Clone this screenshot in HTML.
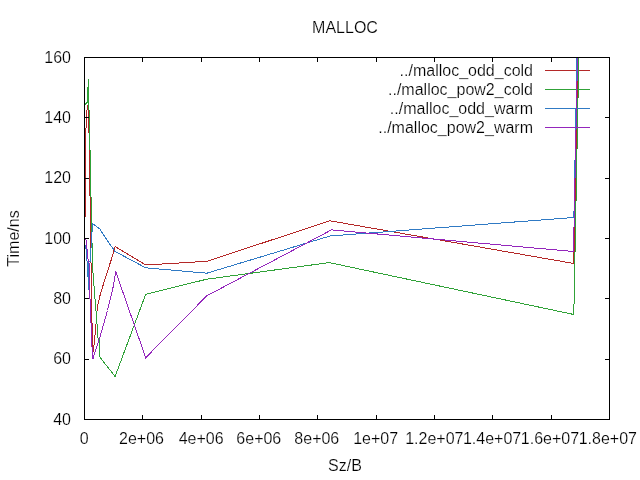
<!DOCTYPE html>
<html lang="en"><head><meta charset="utf-8"><title>MALLOC</title>
<style>
html,body{margin:0;padding:0;background:#fff;}
svg{display:block;will-change:transform;}
text{font-family:"Liberation Sans",Arial,sans-serif;font-size:16px;fill:#000;stroke:#fff;stroke-width:0.2px;paint-order:fill stroke;}
.ln{fill:none;stroke-width:1;shape-rendering:crispEdges;}
.ax{stroke:#000;stroke-width:1;shape-rendering:crispEdges;fill:none;}
</style></head><body>
<svg width="640" height="480" viewBox="0 0 640 480">
<rect x="0" y="0" width="640" height="480" fill="#ffffff"/>
<g transform="translate(0.5,0.5)">
<path class="ln" stroke="#b42828" d="M544.5 70H589.5"/>
<polyline class="ln" stroke="#b42828" points="85.0,216.0 85.0,128.0 86.0,127.0 86.0,112.0 87.0,107.0 88.0,102.0 88.0,103.0 88.0,132.0 89.0,133.0 89.0,195.0 90.0,196.0 90.0,262.0 91.0,263.0 91.0,322.0 92.0,323.0 92.0,351.0 92.5,352.0 93.0,346.0 94.0,343.0 94.0,335.0 95.0,334.0 95.0,324.0 96.0,323.0 96.0,311.0 97.0,310.0 97.0,305.0 98.0,302.0 99.0,297.0 100.0,293.0 102.5,285.0 110.5,260.0 114.6,246.0 145.2,264.5 206.3,260.8 329.5,220.3 573.3,263.0 577.3,57.0"/>
<path class="ln" stroke="#30a238" d="M544.5 89H589.5"/>
<polyline class="ln" stroke="#30a238" points="84.6,104.0 85.0,103.0 86.0,103.0 87.0,101.0 87.0,87.0 88.0,86.0 88.0,78.0 88.0,79.0 88.0,109.0 89.0,110.0 89.0,149.0 90.0,150.0 90.0,196.0 91.0,197.0 91.0,242.0 92.0,243.0 92.0,272.0 93.0,273.0 93.0,285.0 94.0,286.0 94.0,298.0 95.0,299.0 95.0,310.0 96.0,311.0 96.0,323.0 97.0,324.0 97.0,337.0 98.0,338.0 98.0,339.0 99.0,340.0 99.0,355.0 99.6,357.0 114.6,376.0 145.2,293.8 206.3,278.7 328.7,262.1 573.3,314.0 578.3,57.0"/>
<path class="ln" stroke="#307ac4" d="M544.5 108H589.5"/>
<polyline class="ln" stroke="#307ac4" points="85.0,244.0 85.0,248.0 86.0,249.0 86.0,260.0 87.0,261.0 87.0,276.0 88.0,277.0 88.0,289.0 88.0,288.0 88.0,262.0 89.0,261.0 89.0,261.0 90.0,261.0 90.0,248.0 91.0,247.0 91.0,232.0 92.0,231.0 92.0,223.0 99.3,228.5 110.0,244.7 114.6,251.0 145.2,267.3 206.3,272.7 329.5,235.5 573.4,217.0 576.5,57.0"/>
<path class="ln" stroke="#9426bc" d="M544.5 127H589.5"/>
<polyline class="ln" stroke="#9426bc" points="85.0,239.0 86.0,240.0 86.0,248.0 87.0,249.0 87.0,258.0 88.0,259.0 88.0,262.0 89.0,263.0 89.0,298.0 90.0,299.0 90.0,322.0 91.0,323.0 91.0,346.0 92.0,347.0 92.0,357.0 92.5,358.5 93.0,356.0 99.3,337.0 107.0,310.0 113.0,285.0 115.2,271.0 145.2,357.2 206.3,295.3 331.0,229.4 573.0,251.0 577.0,57.0"/>
</g>
<rect class="ax" x="84.5" y="57.5" width="525" height="362"/>
<path class="ax" d="M84.5 419.5V415M84.5 57.5V62M142.5 419.5V415M142.5 57.5V62M201.5 419.5V415M201.5 57.5V62M259.5 419.5V415M259.5 57.5V62M317.5 419.5V415M317.5 57.5V62M376.5 419.5V415M376.5 57.5V62M434.5 419.5V415M434.5 57.5V62M492.5 419.5V415M492.5 57.5V62M551.5 419.5V415M551.5 57.5V62M609.5 419.5V415M609.5 57.5V62M84.5 419.5H89M609.5 419.5H605M84.5 359.5H89M609.5 359.5H605M84.5 298.5H89M609.5 298.5H605M84.5 238.5H89M609.5 238.5H605M84.5 178.5H89M609.5 178.5H605M84.5 117.5H89M609.5 117.5H605M84.5 57.5H89M609.5 57.5H605"/>
<text x="533" y="75.5" text-anchor="end">../malloc_odd_cold</text>
<text x="533" y="94.5" text-anchor="end">../malloc_pow2_cold</text>
<text x="533" y="113.5" text-anchor="end">../malloc_odd_warm</text>
<text x="533" y="132.5" text-anchor="end">../malloc_pow2_warm</text>
<text x="345" y="33" text-anchor="middle">MALLOC</text>
<text x="71" y="424.7" text-anchor="end">40</text>
<text x="71" y="364.4" text-anchor="end">60</text>
<text x="71" y="304.0" text-anchor="end">80</text>
<text x="71" y="243.7" text-anchor="end">100</text>
<text x="71" y="183.4" text-anchor="end">120</text>
<text x="71" y="123.0" text-anchor="end">140</text>
<text x="71" y="62.7" text-anchor="end">160</text>
<text x="84.3" y="443.5" text-anchor="middle">0</text>
<text x="141.5" y="443.5" text-anchor="middle">2e+06</text>
<text x="201.2" y="443.5" text-anchor="middle">4e+06</text>
<text x="258.8" y="443.5" text-anchor="middle">6e+06</text>
<text x="316.8" y="443.5" text-anchor="middle">8e+06</text>
<text x="375.6" y="443.5" text-anchor="middle">1e+07</text>
<text x="434.3" y="443.5" text-anchor="middle">1.2e+07</text>
<text x="492.1" y="443.5" text-anchor="middle">1.4e+07</text>
<text x="550.0" y="443.5" text-anchor="middle">1.6e+07</text>
<text x="607.8" y="443.5" text-anchor="middle">1.8e+07</text>
<text x="345" y="471" text-anchor="middle">Sz/B</text>
<text transform="translate(19.2,238.5) rotate(-90)" text-anchor="middle">Time/ns</text>
</svg>
</body></html>
